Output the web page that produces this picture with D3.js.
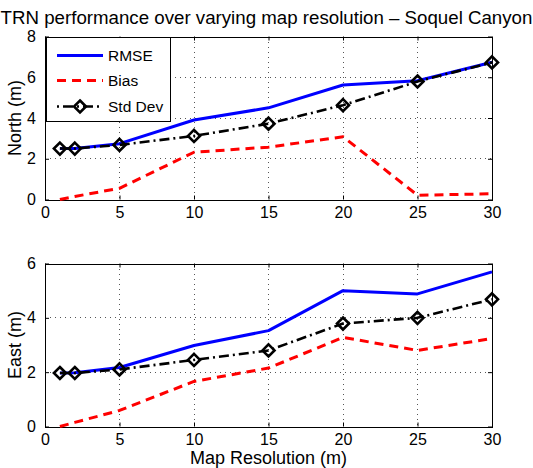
<!DOCTYPE html>
<html>
<head>
<meta charset="utf-8">
<script src="https://cdn.jsdelivr.net/npm/d3@7"></script>
<style>
  html, body { margin: 0; padding: 0; background: #fff; }
  svg { display: block; font-family: "Liberation Sans", Arial, Helvetica, sans-serif; }
</style>
</head>
<body>
<svg id="chart" width="533" height="468"></svg>
<script>
// Map resolution (m) and TRN error statistics (m)
const resolution = [1, 2, 5, 10, 15, 20, 25, 30];
const northRmse = [2.5, 2.5, 2.74, 3.9, 4.5, 5.62, 5.83, 6.74];
const northBias = [0, 0.15, 0.55, 2.32, 2.57, 3.08, 0.21, 0.28];
const northStd  = [2.5, 2.5, 2.68, 3.12, 3.72, 4.63, 5.79, 6.73];
const eastRmse  = [1.97, 1.98, 2.17, 2.98, 3.53, 5.0, 4.88, 5.69];
const eastBias  = [0, 0.15, 0.59, 1.66, 2.15, 3.28, 2.8, 3.24];
const eastStd   = [1.97, 1.97, 2.1, 2.45, 2.8, 3.79, 4.0, 4.68];

const xTicks = [0, 5, 10, 15, 20, 25, 30];
const northTicks = [0, 2, 4, 6, 8];
const eastTicks = [0, 2, 4, 6];
const seriesNames = ["RMSE", "Bias", "Std Dev"];

const svg = d3.select("#chart");
const left = 45, right = 492;

const styles = [
  { color: "#0000ff", width: 3, dash: null, marker: false },
  { color: "#ff0000", width: 3, dash: "9,6", marker: false },
  { color: "#000000", width: 2.6, dash: "10,4,2,4", marker: true }
];

const diamond = r => `M0,${-r}L${r},0L0,${r}L${-r},0Z`;

function panel(top, bottom, yMax, yTicks, yLabel, series, showLegend, showXLabel) {
  const x = d3.scaleLinear().domain([0, 30]).range([left, right]);
  const y = d3.scaleLinear().domain([0, yMax]).range([bottom, top]);
  const g = svg.append("g");

  // dotted grid
  g.append("g").selectAll("line").data(xTicks.slice(1, -1)).join("line")
    .attr("x1", d => x(d)).attr("x2", d => x(d)).attr("y1", top).attr("y2", bottom)
    .attr("stroke", "#555").attr("stroke-width", 1).attr("stroke-dasharray", "1,4")
    .attr("shape-rendering", "crispEdges");
  g.append("g").selectAll("line").data(yTicks.slice(1, -1)).join("line")
    .attr("y1", d => y(d)).attr("y2", d => y(d)).attr("x1", left).attr("x2", right)
    .attr("stroke", "#555").attr("stroke-width", 1).attr("stroke-dasharray", "1,4")
    .attr("shape-rendering", "crispEdges");

  // axes with inward ticks on all four sides
  const tl = 4;
  const axB = d3.axisBottom(x).tickValues(xTicks).tickSize(-tl).tickPadding(7).tickFormat(d3.format("d"));
  const axT = d3.axisTop(x).tickValues(xTicks).tickSize(-tl).tickFormat("");
  const axL = d3.axisLeft(y).tickValues(yTicks).tickSize(-tl).tickPadding(9).tickFormat(d3.format("d"));
  const axR = d3.axisRight(y).tickValues(yTicks).tickSize(-tl).tickFormat("");
  const styleAxis = sel => {
    sel.select(".domain").attr("stroke", "#000").attr("stroke-width", 1);
    sel.selectAll(".tick line").attr("stroke", "#000");
    sel.selectAll("text").attr("fill", "#000").style("font-size", "16px")
      .style("font-family", "'Liberation Sans', Arial, sans-serif");
  };
  g.append("g").attr("transform", `translate(0,${bottom})`).call(axB).call(styleAxis);
  g.append("g").attr("transform", `translate(0,${top})`).call(axT).call(styleAxis);
  g.append("g").attr("transform", `translate(${left},0)`).call(axL).call(styleAxis);
  g.append("g").attr("transform", `translate(${right},0)`).call(axR).call(styleAxis);
  g.selectAll(".domain").attr("shape-rendering", "crispEdges");

  // series lines
  const line = d3.line().x((d, i) => x(resolution[i])).y(d => y(d));
  series.forEach((vals, k) => {
    const s = styles[k];
    g.append("path").datum(vals).attr("d", line)
      .attr("fill", "none").attr("stroke", s.color).attr("stroke-width", s.width)
      .attr("stroke-dasharray", s.dash).attr("stroke-linejoin", "round");
    if (s.marker) {
      g.append("g").selectAll("path").data(vals).join("path")
        .attr("transform", (d, i) => `translate(${x(resolution[i])},${y(d)})`)
        .attr("d", diamond(6)).attr("fill", "none")
        .attr("stroke", s.color).attr("stroke-width", 2.6);
    }
  });

  // y label
  g.append("text")
    .attr("transform", `translate(21,${(top + bottom) / 2}) rotate(-90)`)
    .attr("text-anchor", "middle").style("font-size", "18px").text(yLabel);

  if (showXLabel) {
    g.append("text").attr("x", (left + right) / 2).attr("y", bottom + 37)
      .attr("text-anchor", "middle").style("font-size", "18px").text("Map Resolution (m)");
  }

  if (showLegend) {
    const lg = g.append("g");
    lg.append("rect").attr("x", 46.5).attr("y", 37.5).attr("width", 124).attr("height", 84)
      .attr("fill", "#fff").attr("stroke", "#000").attr("stroke-width", 1)
      .attr("shape-rendering", "crispEdges");
    const rows = [55.5, 80.5, 106.5];
    seriesNames.forEach((name, k) => {
      const s = styles[k];
      lg.append("line").attr("x1", 57).attr("x2", 103).attr("y1", rows[k]).attr("y2", rows[k])
        .attr("stroke", s.color).attr("stroke-width", s.width)
        .attr("stroke-dasharray", k === 2 ? "2,4,10,4" : s.dash);
      if (s.marker) {
        lg.append("path").attr("transform", `translate(80,${rows[k]})`)
          .attr("d", diamond(6)).attr("fill", "none")
          .attr("stroke", s.color).attr("stroke-width", 2.6);
      }
      lg.append("text").attr("x", 108).attr("y", rows[k] + 5.5)
        .style("font-size", "15.5px").text(name);
    });
  }
}

svg.append("text").attr("x", 266.5).attr("y", 24).attr("text-anchor", "middle")
  .style("font-size", "18.7px").text("TRN performance over varying map resolution \u2013 Soquel Canyon");

panel(36.5, 199.5, 8, northTicks, "North (m)", [northRmse, northBias, northStd], true, false);
panel(263.5, 426.5, 6, eastTicks, "East (m)", [eastRmse, eastBias, eastStd], false, true);
</script>
</body>
</html>
